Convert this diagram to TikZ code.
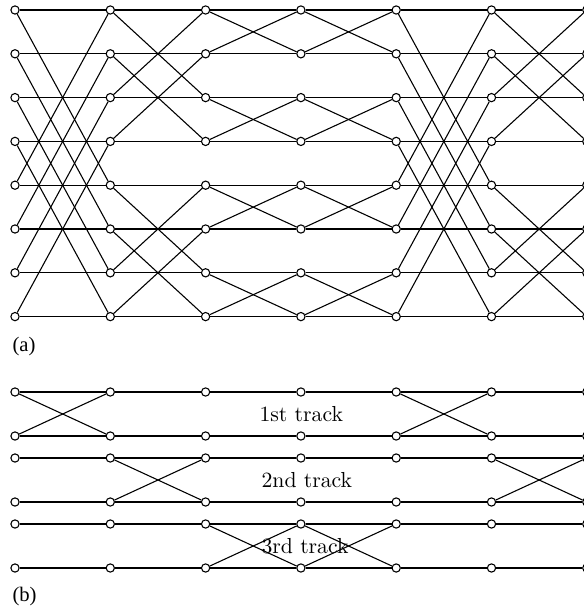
\documentclass[tikz,border=0pt]{standalone}
\usepackage{fontspec}
\newfontfamily\capfont{Liberation Serif}
\usepackage{tikz}

\begin{document}
\begin{tikzpicture}[x=0.46pt, y=-0.46pt, line width=0.5pt,
    pt/.style={draw, circle, fill=white, inner sep=0pt, minimum size=3.8pt},
    tracklbl/.style={anchor=west, inner sep=0pt},
    sublbl/.style={anchor=west, inner sep=0pt, font=\capfont\fontsize{9.5}{11}\selectfont}]
    \clip (0,0) rectangle (584,608);
    \useasboundingbox (0,0) rectangle (584,608);

    % (a) butterfly network
    \foreach \c in {0,...,6}
        \foreach \r in {0,...,7}
            \node[pt] (a\c\r) at ({15+95.3*\c},{10+43.8*\r}) {};
    \foreach \s/\m in {0/4,1/2,2/1,3/1,4/4,5/2} {
        \pgfmathtruncatemacro\t{\s+1}
        \foreach \r in {0,...,7} {
            \pgfmathtruncatemacro\p{\r+\m*(1-2*mod(floor(\r/\m),2))}
            \draw (a\s\r) -- (a\t\r);
            \draw (a\s\r) -- (a\t\p);
        }
    }
    \node[sublbl] (capa) at (12,347) {(a)};

    % (b) the three tracks
    \foreach \c in {0,...,6}
        \foreach \r/\y in {0/392,1/436,2/458,3/502,4/524,5/568}
            \node[pt] (b\c\r) at ({15+95.3*\c},\y) {};
    \foreach \c in {0,...,5} {
        \pgfmathtruncatemacro\t{\c+1}
        \foreach \r in {0,...,5}
            \draw (b\c\r) -- (b\t\r);
    }
    \foreach \k/\s in {0/0,0/4,1/1,1/5,2/2,2/3} {
        \pgfmathtruncatemacro\t{\s+1}
        \pgfmathtruncatemacro\u{2*\k}
        \pgfmathtruncatemacro\v{2*\k+1}
        \draw (b\s\u) -- (b\t\v);
        \draw (b\s\v) -- (b\t\u);
    }
    \node[tracklbl] (trk1) at (259,414) {1st track};
    \node[tracklbl] (trk2) at (261,480) {2nd track};
    \node[tracklbl] (trk3) at (261,546) {3rd track};
    \node[sublbl] (capb) at (12,597) {(b)};
\end{tikzpicture}
\end{document}
